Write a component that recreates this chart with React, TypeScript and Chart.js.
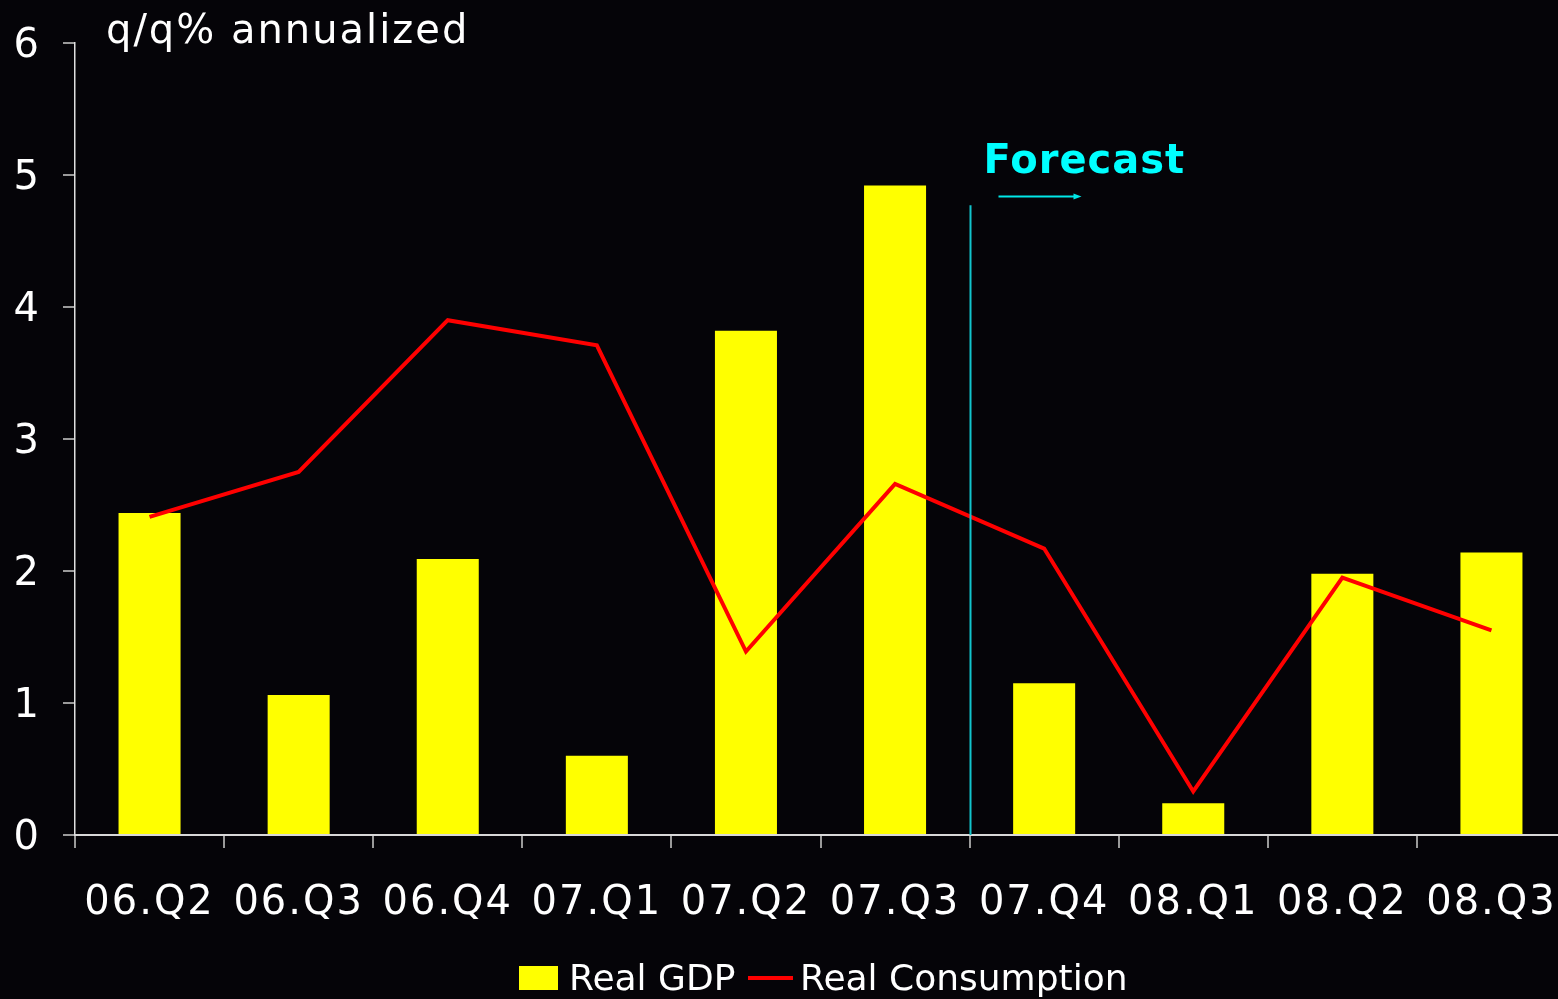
import React, { useEffect, useRef } from "react";
import { Chart, registerables } from "chart.js";

Chart.register(...registerables);

const categories = ["06.Q2", "06.Q3", "06.Q4", "07.Q1", "07.Q2", "07.Q3", "07.Q4", "08.Q1", "08.Q2", "08.Q3"];
const realGDP = [2.44, 1.06, 2.09, 0.6, 3.82, 4.92, 1.15, 0.24, 1.98, 2.14];
const realConsumption = [2.41, 2.75, 3.9, 3.71, 1.39, 2.66, 2.17, 0.33, 1.95, 1.55];
const yAxisTitle = "q/q% annualized";
const forecastLabel = "Forecast";
const forecastStartIndex = 6; // first forecast category (07.Q4)
const forecastLineTopValue = 4.77;
const forecastArrowValue = 4.84;
const legendLabels = ["Real GDP", "Real Consumption"];

const FONT = "'DejaVu Sans', sans-serif";

const overlayPlugin = {
  id: "overlay",
  beforeDraw(chart: any) {
    chart.ctx.letterSpacing = "2px";
  },
  afterDatasetsDraw(chart: any) {
    const { ctx, scales } = chart;
    const x = scales.x;
    const y = scales.y;
    ctx.save();
    // forecast divider
    const bx = Math.round((x.getPixelForValue(forecastStartIndex - 1) + x.getPixelForValue(forecastStartIndex)) / 2) + 0.5;
    ctx.strokeStyle = "#12c4cc";
    ctx.lineWidth = 2;
    ctx.beginPath();
    ctx.moveTo(bx, y.getPixelForValue(forecastLineTopValue));
    ctx.lineTo(bx, y.getPixelForValue(0));
    ctx.stroke();
    // arrow
    const ay = Math.round(y.getPixelForValue(forecastArrowValue)) + 0.5;
    const ax0 = bx + 28;
    const ax1 = bx + 111;
    ctx.strokeStyle = "#00e8e8";
    ctx.fillStyle = "#00e8e8";
    ctx.lineWidth = 2;
    ctx.beginPath();
    ctx.moveTo(ax0, ay);
    ctx.lineTo(ax1 - 6, ay);
    ctx.stroke();
    ctx.beginPath();
    ctx.moveTo(ax1, ay);
    ctx.lineTo(ax1 - 8, ay - 3);
    ctx.lineTo(ax1 - 8, ay + 3);
    ctx.closePath();
    ctx.fill();
    // forecast text
    ctx.fillStyle = "#00ffff";
    ctx.font = `bold 40px ${FONT}`;
    ctx.letterSpacing = "1px";
    ctx.textAlign = "left";
    ctx.textBaseline = "alphabetic";
    ctx.fillText(forecastLabel, bx + 13, 173);
    ctx.restore();
  },
  afterDraw(chart: any) {
    const { ctx, scales } = chart;
    ctx.save();
    ctx.letterSpacing = "2px";
    ctx.fillStyle = "#ffffff";
    ctx.font = `40px ${FONT}`;
    ctx.textAlign = "left";
    ctx.textBaseline = "alphabetic";
    ctx.fillText(yAxisTitle, scales.y.right + 31, 43);
    // legend
    ctx.letterSpacing = "0px";
    ctx.font = `36px ${FONT}`;
    ctx.fillStyle = "#ffff00";
    ctx.fillRect(519, 966, 39, 24);
    ctx.fillStyle = "#ffffff";
    ctx.fillText(legendLabels[0], 569, 990);
    ctx.strokeStyle = "#ff0000";
    ctx.lineWidth = 4;
    ctx.beginPath();
    ctx.moveTo(748, 978);
    ctx.lineTo(793, 978);
    ctx.stroke();
    ctx.fillText(legendLabels[1], 800, 990);
    ctx.restore();
  },
};

export default function App() {
  const ref = useRef<HTMLCanvasElement>(null);
  useEffect(() => {
    if (!ref.current) return;
    const chart = new Chart(ref.current, {
      type: "bar",
      data: {
        labels: categories,
        datasets: [
          {
            type: "line",
            label: legendLabels[1],
            data: realConsumption,
            borderColor: "#ff0000",
            borderWidth: 4,
            pointRadius: 0,
            tension: 0,
            order: 0,
          } as any,
          {
            type: "bar",
            label: legendLabels[0],
            data: realGDP,
            backgroundColor: "#ffff00",
            borderWidth: 0,
            barPercentage: 0.416,
            categoryPercentage: 1,
            order: 1,
          },
        ],
      },
      options: {
        responsive: false,
        animation: false,
        devicePixelRatio: 1,
        layout: { padding: { top: 43, left: 0, right: 0, bottom: 0 } },
        plugins: { legend: { display: false }, tooltip: { enabled: false } },
        scales: {
          x: {
            offset: true,
            grid: {
              offset: true,
              drawOnChartArea: false,
              tickLength: 13,
              color: "#9a9a9a",
              lineWidth: 2,
            },
            border: { color: "#d8d8d8", width: 2 },
            ticks: {
              color: "#ffffff",
              font: { family: FONT, size: 40 },
              padding: 32,
              maxRotation: 0,
              autoSkip: false,
            },
            afterFit: (s: any) => {
              s.height = 164;
              s.paddingLeft = 0;
              s.paddingRight = 0;
            },
          },
          y: {
            min: 0,
            max: 6,
            grid: {
              drawOnChartArea: false,
              tickLength: 12,
              color: "#9a9a9a",
              lineWidth: 2,
            },
            border: { color: "#e0e0e0", width: 1.5 },
            ticks: {
              stepSize: 1,
              color: "#ffffff",
              font: { family: FONT, size: 40 },
              padding: 22,
              labelOffset: 4,
            },
            afterFit: (s: any) => {
              s.width = 75;
              s.paddingTop = 0;
              s.paddingBottom = 0;
            },
          },
        },
      },
      plugins: [overlayPlugin],
    });
    return () => chart.destroy();
  }, []);
  return (
    <div
      style={{
        position: "fixed",
        left: 0,
        top: 0,
        width: "100vw",
        height: "100vh",
        overflow: "hidden",
        background: "#050408",
      }}
    >
      <canvas ref={ref} width={1566} height={999} style={{ display: "block", width: 1566, height: 999 }} />
    </div>
  );
}
